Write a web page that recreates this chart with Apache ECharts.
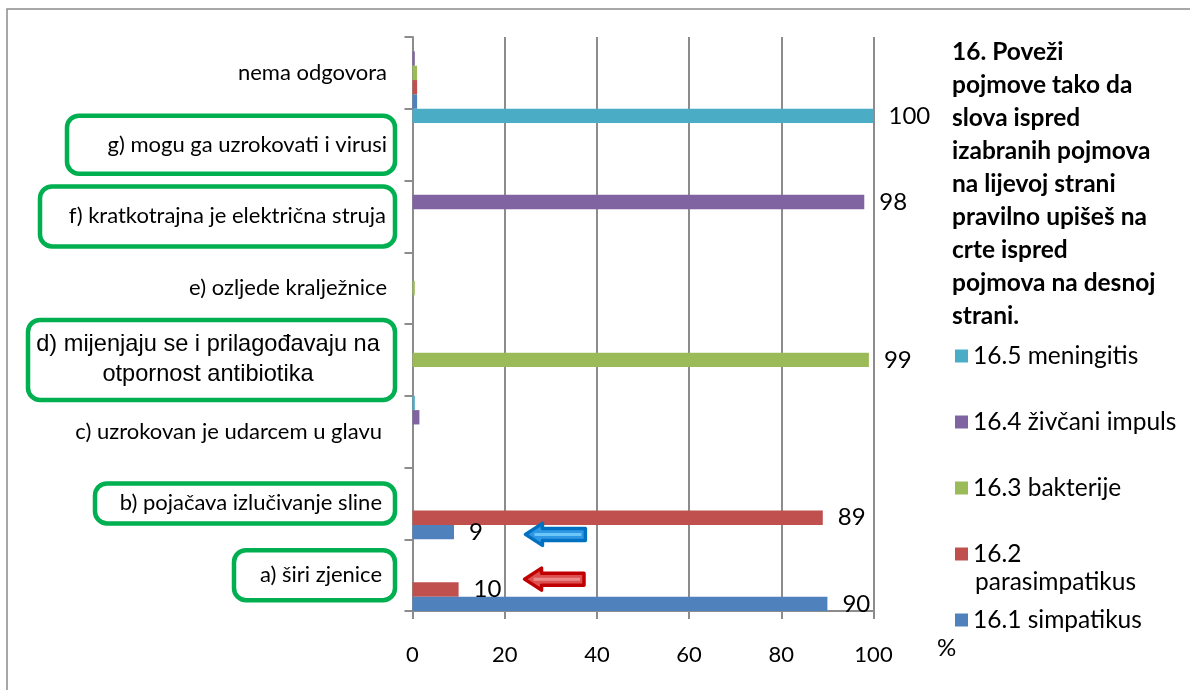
<!DOCTYPE html>
<html><head><meta charset="utf-8">
<script src="https://cdn.jsdelivr.net/npm/echarts@6/dist/echarts.min.js"></script>
<style>html,body{margin:0;padding:0;background:#fff}#c{width:1190px;height:690px}</style>
</head><body><div id="c"></div>
<script>
// ---- data ----
const categories = [
  'a) širi zjenice',
  'b) pojačava izlučivanje sline',
  'c) uzrokovan je udarcem u glavu',
  'd) mijenjaju se i prilagođavaju na otpornost antibiotika',
  'e) ozljede kralježnice',
  'f) kratkotrajna je električna struja',
  'g) mogu ga uzrokovati i virusi',
  'nema odgovora'
];
const seriesNames = ['16.1 simpatikus', '16.2 parasimpatikus', '16.3 bakterije', '16.4 živčani impuls', '16.5 meningitis'];
const simpatikus     = [90, 9, 0, 0, 0, 0, 0, 1];
const parasimpatikus = [10, 89, 0, 0, 0, 0, 0, 1];
const bakterije      = [0, 0, 0, 99, 0.5, 0, 0, 1];
const zivcaniImpuls  = [0, 0, 1.5, 0, 0, 98, 0, 0.5];
const meningitis     = [0, 0, 0.5, 0, 0, 0, 100, 0];
const xMin = 0, xMax = 100, xStep = 20;
const axisUnit = '%';
const titleLines = ['16. Poveži', 'pojmove tako da', 'slova ispred', 'izabranih pojmova', 'na lijevoj strani', 'pravilno upišeš na', 'crte ispred', 'pojmova na desnoj', 'strani.'];

// ---- styles ----
const colors = {
  '16.1 simpatikus': '#4F81BD',
  '16.2 parasimpatikus': '#C0504D',
  '16.3 bakterije': '#9BBB59',
  '16.4 živčani impuls': '#8064A2',
  '16.5 meningitis': '#4BACC6'
};
const valuesByName = {
  '16.1 simpatikus': simpatikus,
  '16.2 parasimpatikus': parasimpatikus,
  '16.3 bakterije': bakterije,
  '16.4 živčani impuls': zivcaniImpuls,
  '16.5 meningitis': meningitis
};
const GREEN = '#00B050';
const boxBase = { borderColor: GREEN, borderWidth: 4.5, borderRadius: 12, overflow: 'none' };
const labelStyles = [
  Object.assign({ width: 148, padding: [12, 13, 12, 0] }, boxBase),
  Object.assign({ width: 287, padding: [7, 13, 7, 0] }, boxBase),
  { padding: [0, 13, 0, 0] },
  Object.assign({ padding: [10, 15, 10, 8] }, boxBase),
  { padding: [0, 8, 0, 0] },
  Object.assign({ width: 346, padding: [17, 9, 17, 0] }, boxBase),
  Object.assign({ width: 320, padding: [16, 8, 16, 0] }, boxBase),
  { padding: [0, 8, 0, 0] }
];
const FONT = 'Lato';
const GRAY = '#8C8C8C';

const chart = echarts.init(document.getElementById('c'), null, { renderer: 'canvas' });

// bottom-to-top within each band: simpatikus ... meningitis
const order = ['16.5 meningitis', '16.4 živčani impuls', '16.3 bakterije', '16.2 parasimpatikus', '16.1 simpatikus'];

const series = order.map(name => ({
  name: name,
  type: 'bar',
  data: valuesByName[name],
  barGap: '0%',
  barCategoryGap: '0%',
  itemStyle: { color: colors[name] },
  label: {
    show: true,
    position: 'right',
    distance: 15,
    fontFamily: FONT,
    fontSize: 24,
    color: '#000',
    formatter: p => (p.value >= 5 ? String(p.value) : '')
  }
}));

chart.setOption({
  animation: false,
  backgroundColor: '#fff',
  title: {
    text: titleLines.join('\n'),
    left: 952,
    top: 36,
    padding: 0,
    textStyle: { fontFamily: FONT, fontWeight: 'bold', fontSize: 24.5, lineHeight: 33, color: '#000' }
  },
  legend: {
    orient: 'vertical',
    left: 955,
    top: 339.5,
    padding: 0,
    itemWidth: 13,
    itemHeight: 13,
    itemGap: 33,
    icon: 'rect',
    data: ['16.5 meningitis', '16.4 živčani impuls', '16.3 bakterije', '16.2 parasimpatikus', '16.1 simpatikus'],
    formatter: n => (n === '16.2 parasimpatikus' ? '16.2' : n),
    textStyle: { fontFamily: FONT, fontSize: 24.5, lineHeight: 33, color: '#000' }
  },
  grid: { left: 412.5, right: 316.5, top: 37, bottom: 79, outerBoundsMode: 'none' },
  xAxis: {
    type: 'value',
    min: xMin, max: xMax, interval: xStep,
    axisLine: { show: true, lineStyle: { color: GRAY, width: 2 } },
    axisTick: { show: true, length: 8, lineStyle: { color: GRAY, width: 2 } },
    splitLine: { show: true, lineStyle: { color: GRAY, width: 2 } },
    axisLabel: { fontFamily: FONT, fontSize: 22, color: '#000', margin: 33 }
  },
  yAxis: {
    type: 'category',
    data: categories.map((c, i) => ({ value: c, textStyle: labelStyles[i] })),
    axisLine: { show: true, lineStyle: { color: GRAY, width: 2 } },
    axisTick: { show: true, length: 8, interval: 0, lineStyle: { color: GRAY, width: 2 } },
    splitLine: { show: false },
    axisLabel: {
      interval: 0,
      margin: 17.5,
      fontFamily: FONT,
      fontSize: 22,
      lineHeight: 26,
      color: '#000',
      formatter: v => {
        if (v === categories[3]) {
          return '{d|d) mijenjaju se i prilagođavaju na}\n{d|otpornost antibiotika}';
        }
        return v;
      },
      rich: {
        d: { fontFamily: 'Liberation Sans', fontSize: 23.6, lineHeight: 30, width: 344, align: 'center', color: '#000' }
      }
    }
  },
  series: series,
  graphic: [
    {
      type: 'rect', z: -10, silent: true,
      shape: { x: 7, y: 9, width: 1200, height: 700 },
      style: { fill: 'none', stroke: GRAY, lineWidth: 1.5 }
    },
    {
      type: 'text', left: 975, top: 570,
      style: { text: 'parasimpatikus', fontFamily: FONT, fontSize: 24.5, fill: '#000' }
    },
    {
      type: 'text', left: 937, top: 636,
      style: { text: axisUnit, fontFamily: FONT, fontSize: 24, fill: '#000' }
    }
  ]
});

// annotation arrows, positioned through the axes
function arrow(cat, yShift, tipVal, tailVal, fill, stroke, hi) {
  const tx = chart.convertToPixel({ xAxisIndex: 0 }, tipVal);
  const tail = chart.convertToPixel({ xAxisIndex: 0 }, tailVal);
  const ty = chart.convertToPixel({ yAxisIndex: 0 }, cat) + yShift;
  return [
    {
      type: 'polygon', z: 50,
      shape: { points: [[tx, ty], [tx + 17, ty - 11], [tx + 17, ty - 6], [tail, ty - 6], [tail, ty + 6], [tx + 17, ty + 6], [tx + 17, ty + 11]] },
      style: { fill: fill, stroke: stroke, lineWidth: 3.5, lineJoin: 'round' }
    },
    {
      type: 'polyline', z: 51,
      shape: { points: [[tx + 9, ty], [tail - 4, ty]] },
      style: { stroke: hi, lineWidth: 3, fill: 'none' }
    }
  ];
}
const opt = chart.getOption();
chart.setOption({
  graphic: opt.graphic[0].elements.map(e => ({ id: e.id })).concat(
    arrow(categories[1], 31, 24.5, 37.5, '#2F98E4', '#0070C0', '#6CC6FA'),
    arrow(categories[0], 4, 24.3, 37.2, '#DD5050', '#C00000', '#EC8A8A')
  )
});
</script>
</body></html>
